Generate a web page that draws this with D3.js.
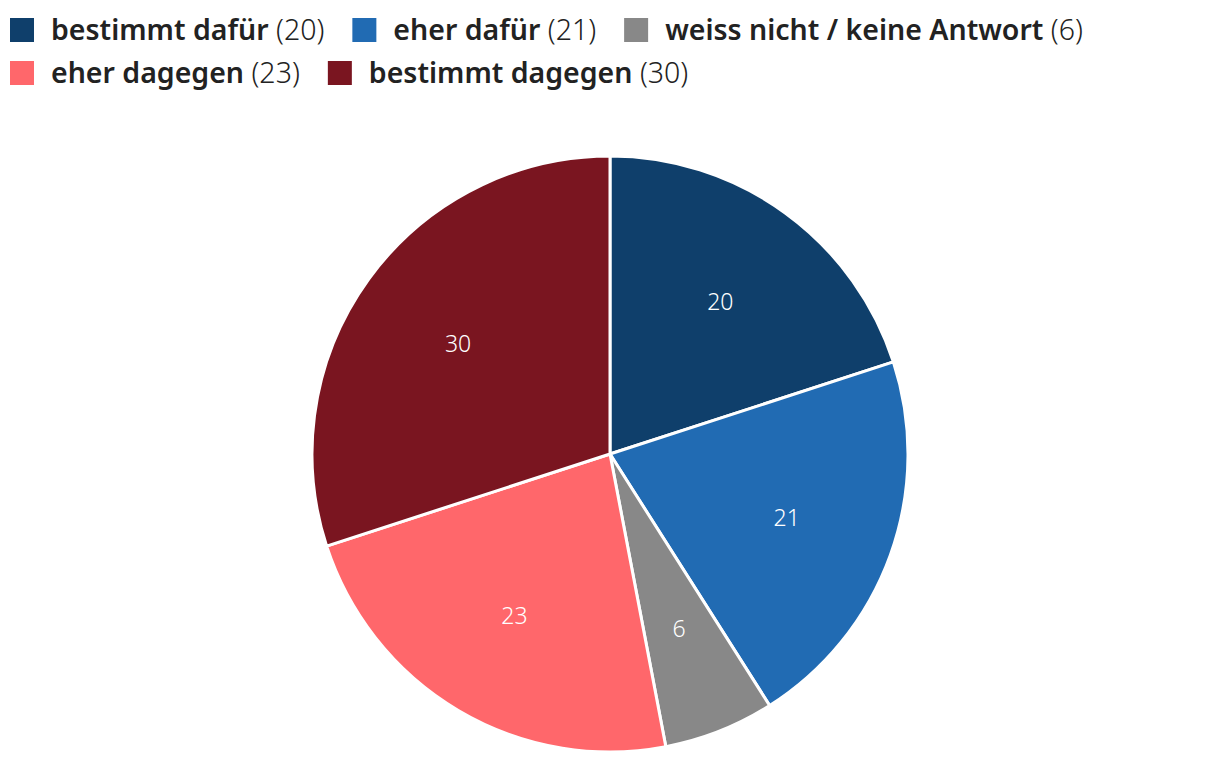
<!DOCTYPE html>
<html><head><meta charset="utf-8">
<script src="https://cdn.jsdelivr.net/npm/d3@7"></script>
<style>
body{margin:0;background:#fff;}
svg{display:block;}
</style></head>
<body>
<svg id="chart" width="1220" height="764"></svg>
<script>
const categories = ["bestimmt dafür","eher dafür","weiss nicht / keine Antwort","eher dagegen","bestimmt dagegen"];
const values = [20,21,6,23,30];
const colors = ["#0f3f6b","#216bb3","#888888","#ff676b","#7a1520"];

const svg = d3.select("#chart");
const font = "'Noto Sans', 'Open Sans', sans-serif";

// Legend with wrapping
const legend = svg.append("g");
let x = 10, y = 30;
const rowH = 43, maxW = 1200;
categories.forEach((c,i)=>{
  const g = legend.append("g");
  g.append("rect").attr("x",0).attr("y",-12).attr("width",24).attr("height",24).attr("fill",colors[i]);
  const t = g.append("text").attr("x",41).attr("y",0).attr("dy","0.35em")
    .attr("font-family",font).attr("font-size",28.5).attr("fill","#222");
  t.append("tspan").attr("font-weight",600).text(c);
  t.append("tspan").attr("font-weight",300).text(" ("+values[i]+")");
  const w = 41 + t.node().getComputedTextLength();
  if (x + w > maxW && x > 10) { x = 10; y += rowH; }
  g.attr("transform",`translate(${x},${y})`);
  x += w + 28;
});

const cx = 610, cy = 454, r = 298;
const pie = d3.pie().sort(null).value(d=>d)(values);
const arc = d3.arc().innerRadius(0).outerRadius(r);
const labelArc = d3.arc().innerRadius(r*0.63).outerRadius(r*0.63);
const g = svg.append("g").attr("transform",`translate(${cx},${cy})`);
g.selectAll("path").data(pie).join("path")
  .attr("d",arc).attr("fill",(d,i)=>colors[i])
  .attr("stroke","#fff").attr("stroke-width",3).attr("stroke-linejoin","round");
g.selectAll("text").data(pie).join("text")
  .attr("transform",d=>`translate(${labelArc.centroid(d)})`)
  .attr("text-anchor","middle").attr("dy","0.35em")
  .attr("font-family",font).attr("font-size",23).attr("font-weight",300)
  .attr("fill","#fff").text(d=>d.value);
</script>
</body></html>
